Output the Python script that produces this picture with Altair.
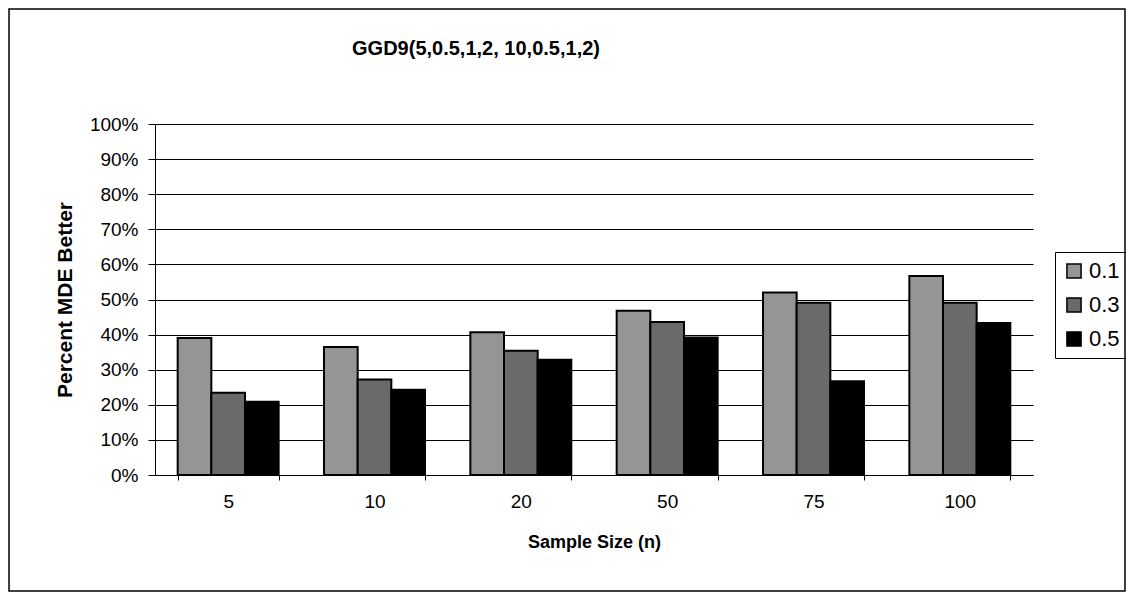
import altair as alt
import pandas as pd

sizes = ["5", "10", "20", "50", "75", "100"]
series = ["0.1", "0.3", "0.5"]
v01 = [39.0, 36.5, 40.7, 46.8, 52.0, 56.7]
v03 = [23.4, 27.2, 35.4, 43.6, 49.1, 49.1]
v05 = [20.9, 24.3, 32.8, 39.2, 26.7, 43.3]
colors = ["#959595", "#6a6a6a", "#000000"]
y_ticks = [0, 0.1, 0.2, 0.3, 0.4, 0.5, 0.6, 0.7, 0.8, 0.9, 1.0]

rows = []
for s, vals in zip(series, [v01, v03, v05]):
    for n, v in zip(sizes, vals):
        rows.append({"n": n, "level": s, "pct": v / 100})
df = pd.DataFrame(rows)

W, H = 878, 351
FONT = "Liberation Sans"

bars = alt.Chart(df).mark_bar(stroke="black", strokeWidth=2).encode(
    x=alt.X(
        "n:N", sort=sizes, title="Sample Size (n)",
        scale=alt.Scale(paddingInner=0.31, paddingOuter=0.155),
        axis=alt.Axis(labelAngle=0, tickBand="extent", tickSize=5, tickColor="black",
                      domainColor="black", labelFontSize=19, labelColor="black",
                      labelPadding=12, titleFontSize=18, titleFontWeight="bold",
                      titleColor="black", titlePadding=22, grid=False),
    ),
    xOffset=alt.XOffset("level:N", sort=series,
                        scale=alt.Scale(paddingInner=0, paddingOuter=0)),
    y=alt.Y(
        "pct:Q", title="Percent MDE Better",
        scale=alt.Scale(domain=[0, 1]),
        axis=alt.Axis(format=".0%", values=y_ticks, tickSize=7, tickColor="black",
                      domainColor="black", labelFontSize=19, labelColor="black",
                      labelPadding=10, grid=True, gridColor="black", gridWidth=1,
                      gridOpacity=1, titleFontSize=21, titleFontWeight="bold",
                      titleColor="black", titlePadding=14),
    ),
    color=alt.Color(
        "level:N", sort=series,
        scale=alt.Scale(domain=series, range=colors),
        legend=alt.Legend(title=None, orient="none", legendX=900, legendY=128,
                          symbolType="square", symbolSize=200,
                          symbolStrokeColor="black", symbolStrokeWidth=1.5,
                          labelFontSize=22, labelColor="black",
                          strokeColor="black", padding=8, rowPadding=12),
    ),
)

border = alt.Chart(pd.DataFrame({"b": [0]})).mark_rect(
    fillOpacity=0, stroke="black", strokeWidth=1.5
).encode(
    x=alt.value(-146), x2=alt.value(970), y=alt.value(-115), y2=alt.value(467)
)

chart = alt.layer(border, bars).properties(
    width=W, height=H,
    title=alt.Title("GGD9(5,0.5,1,2,  10,0.5,1,2)", fontSize=20, fontWeight="bold",
                    color="black", anchor="middle", frame="group", dx=-118, offset=-51),
    padding={"left": 147, "top": 116, "right": 93, "bottom": 118},
    autosize="none",
).configure(font=FONT).configure_view(stroke=None)

chart.save("out.html", embed_options={"renderer": "svg", "actions": False})
